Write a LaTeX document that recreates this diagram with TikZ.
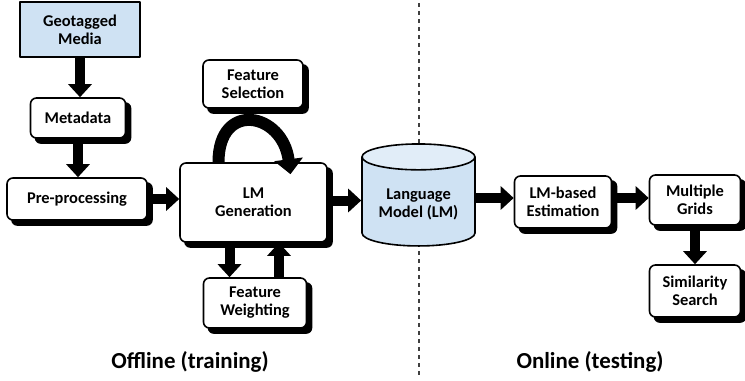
\documentclass[tikz,border=0pt]{standalone}
\usepackage{fontspec}
\setmainfont{Carlito}
\usetikzlibrary{arrows.meta,shapes.geometric,backgrounds}
\definecolor{boxblue}{HTML}{CFE2F3}
\definecolor{topblue}{HTML}{E1EDF8}
\tikzset{
  stepbox/.style={draw, line width=1.6bp, rounded corners=6bp, fill=white, align=center},
  bigarrow/.style={line width=10bp, -{Triangle[length=13bp,width=23bp]}},
}
\begin{document}
\begin{tikzpicture}[x=1bp, y=-1bp, font=\fontsize{16.5}{18}\selectfont\bfseries, line join=round]
\useasboundingbox (0,0) rectangle (745,380);

% Trennlinie offline / online
\draw[line width=1.8bp, black!75, dash pattern=on 4bp off 4bp] (419,3) coordinate (top) -- (419,376) coordinate (bot);

% Offline-Teil
\node[draw, line width=2bp, fill=boxblue, minimum width=120bp, minimum height=55bp, align=center] (geo) at (80,29.5) {Geotagged\\Media};
\node[stepbox, minimum width=95bp, minimum height=40bp] (meta) at (78,118) {Metadata};
\node[stepbox, minimum width=140bp, minimum height=42bp] (pre) at (77,199) {Pre-processing};
\node[stepbox, minimum width=147bp, minimum height=79bp] (lmgen) at (253.5,202.5) {LM\\Generation};
\node[stepbox, minimum width=100bp, minimum height=48bp] (fsel) at (253,84) {Feature\\Selection};
\node[stepbox, minimum width=103bp, minimum height=50bp] (fweight) at (255,303) {Feature\\Weighting};

% Sprachmodell
\node[cylinder, shape border rotate=90, draw, line width=1.6bp, aspect=0.3,
  cylinder uses custom fill, cylinder body fill=boxblue, cylinder end fill=topblue,
  minimum width=113bp, minimum height=102bp, align=center] (lm) at (418.5,204) {Language\\Model (LM)};

% Online-Teil
\node[stepbox, minimum width=97bp, minimum height=52bp] (est) at (563,202) {LM-based\\Estimation};
\node[stepbox, minimum width=91bp, minimum height=50bp] (grids) at (695,200) {Multiple\\Grids};
\node[stepbox, minimum width=91bp, minimum height=52bp] (sim) at (695,291) {Similarity\\Search};

% Schatten
\begin{scope}[on background layer]
\foreach \b in {meta,pre,lmgen,fsel,fweight,est,grids,sim}
  \fill[rounded corners=6bp] ([shift={(5bp,-5bp)}]\b.south west) rectangle ([shift={(5bp,-5bp)}]\b.north east);
\end{scope}

% Pfeile
\draw[bigarrow] (geo.south) -- (geo.south |- meta.north);
\draw[bigarrow] ([yshift=-4bp]meta.south) -- (meta.south |- pre.north);
\draw[bigarrow] ([xshift=4bp]pre.east) -- (pre.east -| lmgen.west);
\draw[bigarrow] ([xshift=4bp,yshift=2bp]lmgen.east) -- ([yshift=2bp]lmgen.east -| lm.west);
\draw[bigarrow] ([yshift=6bp]lm.east) -- ([yshift=6bp]lm.east -| est.west);
\draw[bigarrow] ([xshift=4bp,yshift=4bp]est.east) -- ([yshift=4bp]est.east -| grids.west);
\draw[bigarrow] ([yshift=-4bp]grids.south) -- (grids.south |- sim.north);
\draw[bigarrow] ([xshift=-24bp,yshift=-4bp]lmgen.south) -- ([xshift=-24bp]lmgen.south |- fweight.north);
\draw[bigarrow] ([xshift=24bp]fweight.north) -- ([xshift=24bp]fweight.north |- lmgen.south);
\draw[line width=12bp, -{Triangle[length=15bp,width=28bp]}] ([xshift=-35bp]lmgen.north)
  .. controls +(0,-62) and +(-8,-62) .. ([xshift=37bp,yshift=-12bp]lmgen.north);

% Beschriftung
\node[font=\fontsize{23}{26}\selectfont\bfseries] (offline) at (190,362) {Offline (training)};
\node[font=\fontsize{23}{26}\selectfont\bfseries] (online) at (590,362) {Online (testing)};
\end{tikzpicture}
\end{document}
